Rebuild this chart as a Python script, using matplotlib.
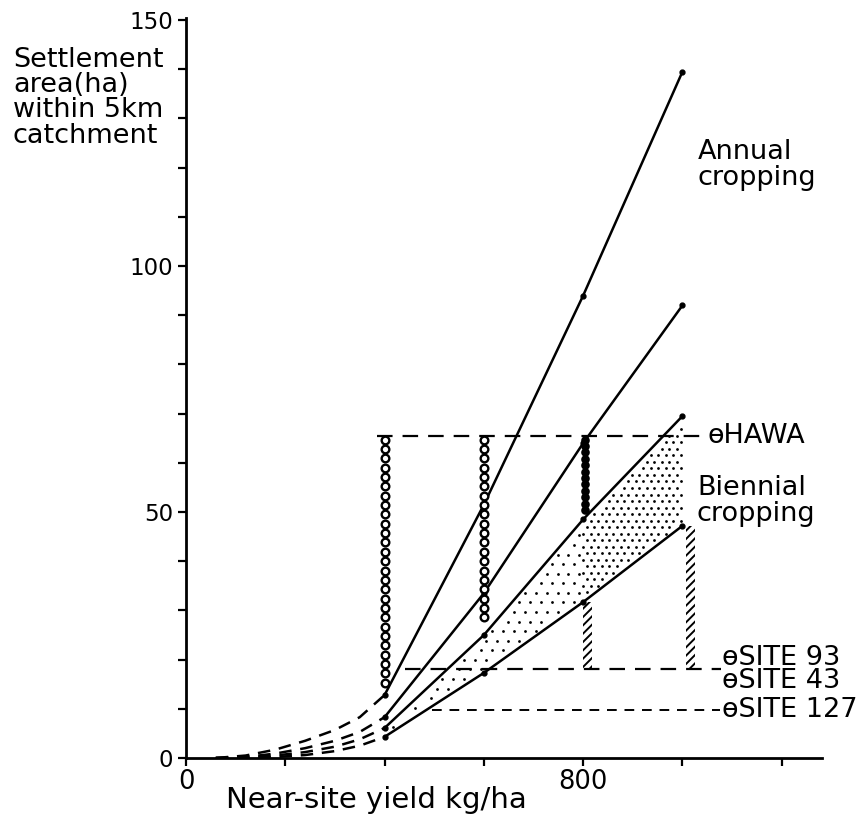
import numpy as np
import matplotlib
matplotlib.use("Agg")
import matplotlib.pyplot as plt

plt.rcParams["font.family"] = ["DejaVu Sans"]
plt.rcParams["hatch.linewidth"] = 1.4

# Settlement area (ha) against near-site yield (kg/ha)
yield_pts = [400, 600, 800, 1000]
annual_high = [12.8, 51.5, 94.0, 139.5]
annual_low = [8.3, 33.5, 64.0, 92.0]
biennial_high = [6.1, 25.0, 48.5, 69.5]
biennial_low = [4.3, 17.3, 31.7, 47.2]

# Dashed lead-in curves below 400 kg/ha
lead_yield = [60, 120, 180, 240, 300, 350, 400]
lead_annual_high = [0.0, 0.5, 1.7, 3.5, 5.7, 8.3, 12.8]
lead_annual_low = [0.0, 0.2, 0.9, 2.0, 3.5, 5.3, 8.3]
lead_biennial_high = [0.0, 0.1, 0.5, 1.2, 2.3, 3.8, 6.1]
lead_biennial_low = [0.0, 0.0, 0.2, 0.6, 1.4, 2.5, 4.3]

# Site reference levels (ha)
hawa = 65.5
site93 = 18.0
site127 = 9.8

# Vertical dotted columns from HAWA down to the curves
col_yield = [400, 600, 800]
col_bottom = [15.0, 27.0, 49.5]

# Hatched bars from the lower biennial curve down to SITE 93
bar_yield = [800, 1008]
bar_top = [31.7, 47.2]

fig = plt.figure(figsize=(8.58, 8.18), dpi=100)
ax = fig.add_axes([186 / 858, 60 / 818, 636 / 858, 740 / 818])
ax.set_xlim(0, 1281)
ax.set_ylim(0, 150.4)

for s in ["top", "right"]:
    ax.spines[s].set_visible(False)
for s in ["left", "bottom"]:
    ax.spines[s].set_linewidth(2.0)

ax.set_yticks(np.arange(0, 151, 10))
ax.set_yticklabels([str(v) if v % 50 == 0 else "" for v in range(0, 151, 10)])
ax.set_xticks(np.arange(0, 1201, 200))
ax.set_xticklabels([str(v) if v in (0, 800) else "" for v in range(0, 1201, 200)])
ax.tick_params(axis="both", direction="out", length=6, width=1.6, pad=3)
ax.tick_params(axis="y", labelsize=16.5)
ax.tick_params(axis="x", labelsize=18.5, pad=2)


def stipple(x0, x1, spacing_px, size):
    """Staggered dot texture filling the band between the biennial curves."""
    dx = spacing_px / 0.4967
    dy = spacing_px / 4.92 * 0.87
    rows = np.arange(0.5, 75, dy)
    px, py = [], []
    for i, y in enumerate(rows):
        xs = np.arange(x0 + (i % 2) * dx / 2, x1, dx)
        lo = np.interp(xs, yield_pts, biennial_low)
        hi = np.interp(xs, yield_pts, biennial_high)
        keep = (y > lo + 0.9) & (y < hi - 0.9)
        px.extend(xs[keep])
        py.extend(np.full(keep.sum(), y))
    ax.plot(px, py, linestyle="none", marker="o", markersize=size,
            markeredgewidth=0, color="black")


stipple(405, 800, 11, 2.0)
stipple(800, 997, 7.5, 2.0)

series = [annual_high, annual_low, biennial_high, biennial_low]
leads = [lead_annual_high, lead_annual_low, lead_biennial_high, lead_biennial_low]
for ys, ls in zip(series, leads):
    ax.plot(yield_pts, ys, color="black", linewidth=1.8, solid_capstyle="round")
    ax.plot(lead_yield, ls, color="black", linewidth=1.8, dashes=(5, 3.5))
    ax.plot(yield_pts, ys, linestyle="none", marker="o", markersize=3.5, color="black")

# horizontal site levels
dash_style = dict(color="black", linewidth=1.6, dashes=(7, 4.5))
ax.plot([385, 1048], [hawa, hawa], **dash_style)
ax.plot([441, 1078], [site93, site93], **dash_style)
ax.plot([496, 1075], [site127, site127], color="black", linewidth=1.4, dashes=(5, 4))

# columns of circles
for x, bottom, filled in zip(col_yield, col_bottom, [False, False, True]):
    step = 1.3 if filled else 1.9
    ys = np.arange(hawa - 0.8, bottom, -step)
    xs = np.full_like(ys, x + (4 if filled else 0))
    ax.plot(xs, ys, linestyle="none", marker="o",
            markersize=4.5 if filled else 5.5,
            markerfacecolor="black" if filled else "white",
            markeredgecolor="black", markeredgewidth=1.7)

# hatched bars
for x, top in zip(bar_yield, bar_top):
    ax.bar(x, top - site93, bottom=site93, width=18, align="edge",
           facecolor="none", edgecolor="black", linewidth=0, hatch="////")

txt = dict(fontsize=19.5, color="black")
ax.text(1051, hawa, "\u04e9HAWA", ha="left", va="center", **txt)
ax.text(1080, 18.0, "\u04e9SITE 93\n\u04e9SITE 43", ha="left", va="center",
        linespacing=0.86, **txt)
ax.text(1079, site127, "\u04e9SITE 127", ha="left", va="center", **txt)
ax.text(1031, 120.5, "Annual\ncropping", ha="left", va="center", linespacing=0.98, **txt)
ax.text(1029, 52.2, "Biennial\ncropping", ha="left", va="center", linespacing=0.98, **txt)

fig.text(13 / 858, 1 - 47 / 818, "Settlement\narea(ha)\nwithin 5km\ncatchment",
         ha="left", va="top", linespacing=0.96, **txt)
fig.text(226 / 858, 1 - 800 / 818, "Near-site yield kg/ha", ha="left", va="center",
         fontsize=21, color="black")

fig.savefig("out.png", dpi=100, facecolor="white")
